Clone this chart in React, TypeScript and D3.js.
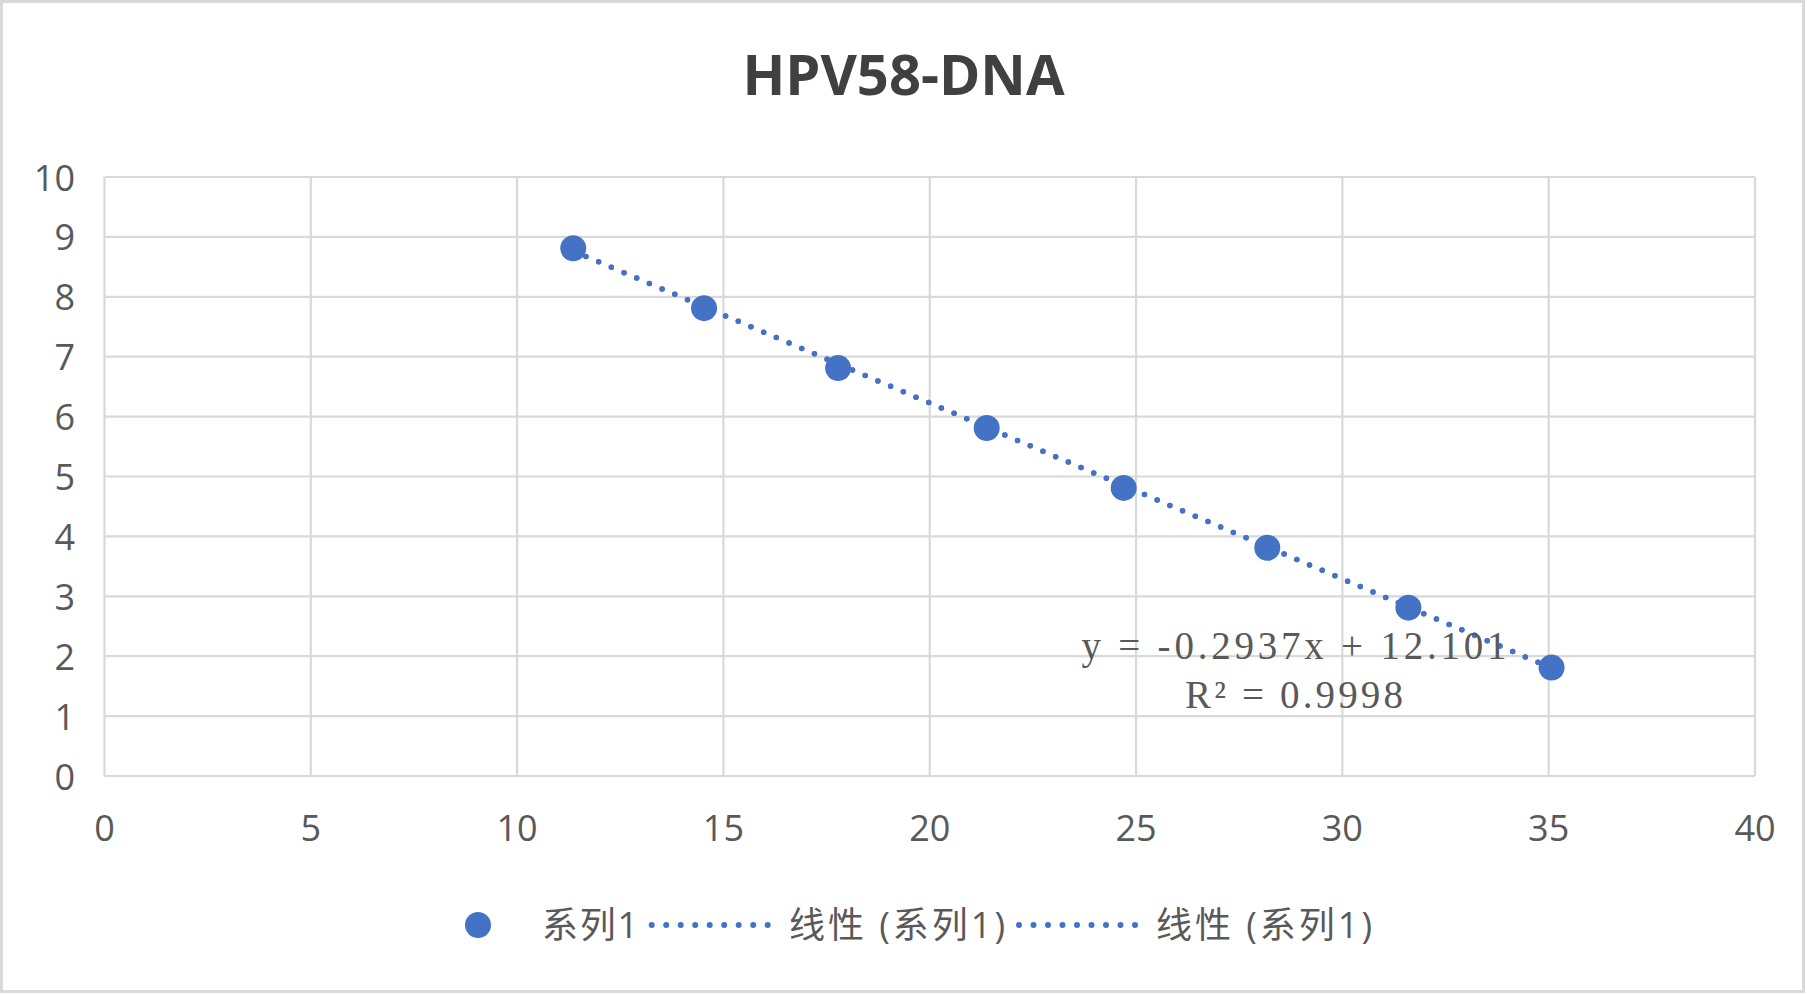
import React from "react";
import * as d3 from "d3";

const chartTitle = "HPV58-DNA";
const xValues = [11.36, 14.53, 17.78, 21.38, 24.7, 28.18, 31.6, 35.07];
const yValues = [8.81, 7.81, 6.81, 5.81, 4.81, 3.81, 2.81, 1.81];
const xTicks = [0, 5, 10, 15, 20, 25, 30, 35, 40];
const yTicks = [0, 1, 2, 3, 4, 5, 6, 7, 8, 9, 10];
const trendSlope = -0.2937;
const trendIntercept = 12.101;
const equationText = "y = -0.2937x + 12.101";
const rSquaredText = "R² = 0.9998";
const seriesName = "系列1";
const trendNames = ["线性 (系列1)", "线性 (系列1)"];

const W = 1807;
const H = 994;
const BLUE = "#4472C4";
const GRID = "#d9d9d9";
const TXT = "#595959";
const LATIN = "'Open Sans', 'Noto Sans CJK SC', sans-serif";

export default function App() {
  const x = d3.scaleLinear().domain([0, 40]).range([104.5, 1755]);
  const y = d3.scaleLinear().domain([0, 10]).range([776, 177]);

  const points = xValues.map((xv, i) => ({ x: xv, y: yValues[i] }));
  const [xmin, xmax] = d3.extent(xValues) as [number, number];
  const trendPts = [xmin, xmax].map((xv) => ({ x: xv, y: trendSlope * xv + trendIntercept }));
  const line = d3
    .line<{ x: number; y: number }>()
    .x((d) => x(d.x))
    .y((d) => y(d.y));
  const trendPath = line(trendPts) || "";

  const legendY = 925;

  return (
    <svg
      width={W}
      height={H}
      style={{ position: "absolute", left: 0, top: 0, display: "block", background: "#fff" }}
    >
      <rect x={0} y={0} width={W} height={H} fill="#fff" />
      <rect x={1.5} y={1.5} width={1802} height={990} fill="none" stroke={GRID} strokeWidth={3} />

      <text
        x={903.5}
        y={95}
        textAnchor="middle"
        fontFamily={LATIN}
        fontWeight={700}
        fontSize={56}
        fill="#404040"
      >
        {chartTitle}
      </text>

      {/* gridlines */}
      <g stroke={GRID} strokeWidth={2.2}>
        {yTicks.map((t) => (
          <line key={"gy" + t} x1={x(0)} x2={x(40)} y1={y(t)} y2={y(t)} />
        ))}
        {xTicks.map((t) => (
          <line key={"gx" + t} x1={x(t)} x2={x(t)} y1={y(0)} y2={y(10)} />
        ))}
      </g>

      {/* y tick labels */}
      <g fontFamily={LATIN} fontSize={36} fill={TXT} textAnchor="end">
        {yTicks.map((t) => (
          <text key={"ly" + t} x={75} y={y(t) + 13.5}>
            {t}
          </text>
        ))}
      </g>
      {/* x tick labels */}
      <g fontFamily={LATIN} fontSize={36} fill={TXT} textAnchor="middle">
        {xTicks.map((t) => (
          <text key={"lx" + t} x={x(t)} y={841}>
            {t}
          </text>
        ))}
      </g>

      {/* markers */}
      <g fill={BLUE}>
        {points.map((p, i) => (
          <circle key={"p" + i} cx={x(p.x)} cy={y(p.y)} r={13} />
        ))}
      </g>

      {/* trendlines (two identical linear trendlines) */}
      {trendNames.map((n, i) => (
        <path
          key={"t" + i}
          d={trendPath}
          fill="none"
          stroke={BLUE}
          strokeWidth={5.5}
          strokeLinecap="round"
          strokeDasharray="0 13.8"
        />
      ))}

      {/* equation */}
      <g fontFamily="'Liberation Serif', 'DejaVu Serif', serif" fontSize={39} fill={TXT}>
        <text x={1081.5} y={659} textLength={425} lengthAdjust="spacing">
          {equationText}
        </text>
        <text x={1185} y={708} textLength={218} lengthAdjust="spacing">
          {rSquaredText}
        </text>
      </g>

      {/* legend */}
      <g>
        <circle cx={478} cy={legendY} r={13} fill={BLUE} />
        <text x={542} y={938} fontFamily={LATIN} fontSize={36} fill={TXT} textLength={96} lengthAdjust="spacing">
          {seriesName}
        </text>
        <line
          x1={651.7}
          x2={768.5}
          y1={legendY}
          y2={legendY}
          stroke={BLUE}
          strokeWidth={6}
          strokeLinecap="round"
          strokeDasharray="0 14.5"
        />
        <text x={789} y={938} fontFamily={LATIN} fontSize={36} fill={TXT} textLength={216} lengthAdjust="spacing">
          {trendNames[0]}
        </text>
        <line
          x1={1019}
          x2={1135.8}
          y1={legendY}
          y2={legendY}
          stroke={BLUE}
          strokeWidth={6}
          strokeLinecap="round"
          strokeDasharray="0 14.5"
        />
        <text x={1156} y={938} fontFamily={LATIN} fontSize={36} fill={TXT} textLength={216} lengthAdjust="spacing">
          {trendNames[1]}
        </text>
      </g>
    </svg>
  );
}
